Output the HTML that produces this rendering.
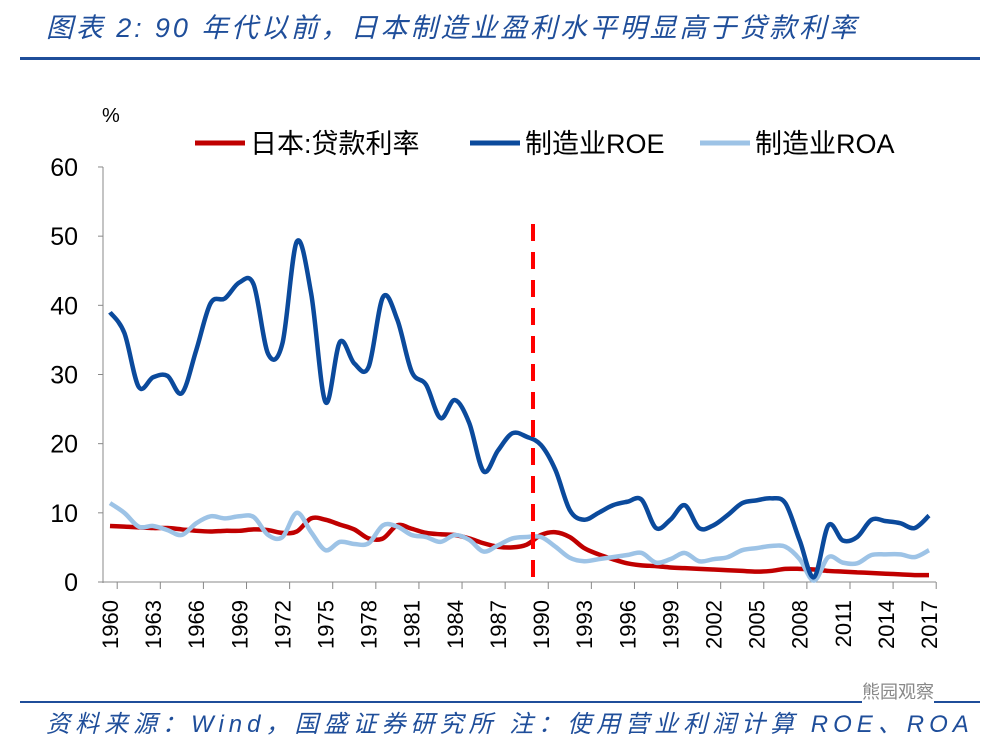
<!DOCTYPE html>
<html><head><meta charset="utf-8"><style>
body{margin:0;background:#fff;width:1000px;height:744px;overflow:hidden;font-family:"Liberation Sans","Noto Sans CJK SC",sans-serif}
.title{position:absolute;left:46px;top:6px;font-size:27px;letter-spacing:2.9px;font-style:italic;color:#1f4e9a;white-space:nowrap}
.rule{position:absolute;left:20px;width:960px;background:#1f4e9a}
.foot{position:absolute;left:46px;top:704px;font-size:24px;letter-spacing:5px;font-style:italic;color:#1f4e9a;white-space:nowrap}
</style></head><body>
<div class="title">图表 2:  90 年代以前，日本制造业盈利水平明显高于贷款利率</div>
<div class="rule" style="top:57px;height:3px"></div>
<div class="rule" style="top:701px;height:2px"></div>
<div class="foot">资料来源：Wind，国盛证券研究所  注：使用营业利润计算 ROE、ROA</div>
<div style="position:absolute;left:862px;top:678px;font-size:18px;color:#888;background:#fff">熊园观察</div>
<svg id="chart" width="1000" height="744" style="position:absolute;left:0;top:0"></svg>
<script>
const years=[];for(let y=1960;y<=2017;y++)years.push(y);
const roe=[39,36,28.2,29.6,29.8,27.3,33.5,40.3,41,43.3,43,33,34.5,49.2,41.7,26,34.7,31.6,31.1,41.2,37.9,30.4,28.5,23.7,26.3,23,16,19,21.5,21,19.8,16.2,10.4,9,10,11.1,11.6,11.9,7.8,9,11.1,7.8,8.2,9.7,11.4,11.8,12.1,11.4,6,0.7,8.2,6,6.5,9,8.8,8.5,7.8,9.6];
const roa=[11.4,10,8,8.1,7.5,6.8,8.5,9.5,9.2,9.5,9.4,6.8,6.5,10,7.2,4.6,5.8,5.5,5.6,8.2,8,6.8,6.5,5.8,6.8,6.1,4.4,5.3,6.3,6.5,6.5,5.1,3.5,3,3.3,3.6,3.9,4.2,2.8,3.3,4.2,3,3.3,3.6,4.6,4.9,5.2,5.1,3.3,0.2,3.6,2.8,2.7,3.9,4,4,3.6,4.6];
const rate=[8.1,8,7.9,7.8,7.8,7.6,7.4,7.3,7.4,7.4,7.6,7.5,7.1,7.3,9.2,9,8.3,7.6,6.3,6.3,8.2,7.7,7.1,6.9,6.8,6.3,5.6,5.1,5,5.4,6.8,7.2,6.5,4.9,4,3.3,2.7,2.4,2.3,2.1,2,1.9,1.8,1.7,1.6,1.5,1.6,1.9,1.9,1.8,1.6,1.5,1.4,1.3,1.2,1.1,1,1];
const yTicks=[0,10,20,30,40,50,60];
const svg=document.getElementById('chart');const NS='http://www.w3.org/2000/svg';
const X=i=>110+i*(819/57);const Y=v=>582-v*6.917;
function mk(t,a,p){const e=document.createElementNS(NS,t);for(const k in a)e.setAttribute(k,a[k]);(p||svg).appendChild(e);return e;}
let ax=mk('line',{x1:103,y1:167,x2:103,y2:583,stroke:'#888','stroke-width':1});

let bx=mk('line',{x1:103,y1:582,x2:936,y2:582,stroke:'#888','stroke-width':1});

yTicks.forEach(v=>{mk('line',{x1:98,x2:103,y1:Y(v),y2:Y(v),stroke:'#888'});
const t=mk('text',{x:78,y:Y(v)+9,'text-anchor':'end','font-size':25,fill:'#000'});t.textContent=v;
});
const pct=mk('text',{x:102,y:122,'font-size':20});pct.textContent='%';

years.forEach((y,i)=>{if(i%3===0){const tx=X(i)+7.2;mk('line',{x1:tx,x2:tx,y1:582,y2:589,stroke:'#888'});
const t=mk('text',{transform:`translate(${X(i)+8},600) rotate(-90)`,'text-anchor':'end','font-size':22});t.textContent=y;
}});
function path(vals){const p=vals.map((v,i)=>[X(i),Y(v)]);let d=`M${p[0][0]},${p[0][1]}`;
for(let i=0;i<p.length-1;i++){const p0=p[Math.max(0,i-1)],p1=p[i],p2=p[i+1],p3=p[Math.min(p.length-1,i+2)];
d+=` C${p1[0]+(p2[0]-p0[0])/6},${p1[1]+(p2[1]-p0[1])/6} ${p2[0]-(p3[0]-p1[0])/6},${p2[1]-(p3[1]-p1[1])/6} ${p2[0]},${p2[1]}`;}return d;}
let s1=mk('path',{d:path(rate),fill:'none',stroke:'#c00000','stroke-width':4.5});

let s2=mk('path',{d:path(roa),fill:'none',stroke:'#9dc3e6','stroke-width':4.5});

let s3=mk('path',{d:path(roe),fill:'none',stroke:'#0b4a9c','stroke-width':4.5});

let dl=mk('line',{x1:533,x2:533,y1:224,y2:582,stroke:'#ff0000','stroke-width':4,'stroke-dasharray':'17,11'});

[[195,'#c00000','日本:贷款利率'],[470,'#0b4a9c','制造业ROE'],[700,'#9dc3e6','制造业ROA']].forEach(([x,c,l])=>{
const g=mk('g',{});
mk('line',{x1:x,x2:x+50,y1:143,y2:143,stroke:c,'stroke-width':5},g);
const t=mk('text',{x:x+55,y:153,'font-size':27},g);t.textContent=l;});
</script>
</body></html>
